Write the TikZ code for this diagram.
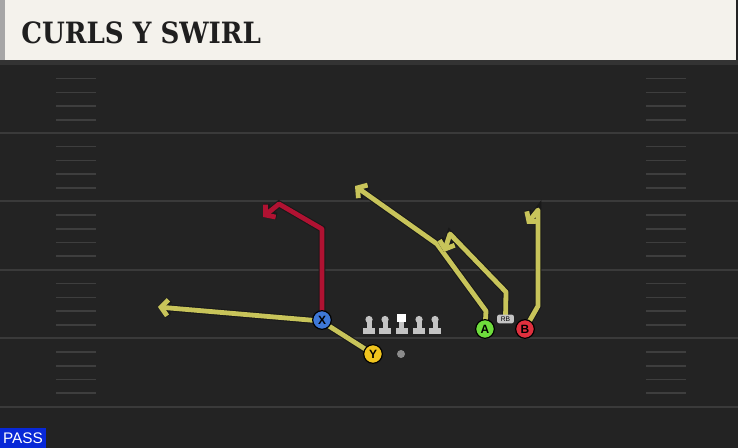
\documentclass[tikz,border=0pt]{standalone}
\usepackage{fontspec}
\setsansfont{Liberation Sans}
\newfontfamily\titlefont{DejaVu Serif}[BoldFont={DejaVu Serif Bold},FakeStretch=0.89]
\usepackage{tikz}
\usetikzlibrary{arrows.meta,positioning}
\pgfdeclarelayer{turf}
\pgfdeclarelayer{routes}
\pgfsetlayers{turf,routes,main}
\definecolor{field}{RGB}{35,35,35}
\definecolor{yardline}{RGB}{58,58,58}
\definecolor{hash}{RGB}{62,62,62}
\definecolor{paper}{RGB}{244,242,236}
\definecolor{routeyel}{RGB}{200,196,90}
\definecolor{routered}{RGB}{176,18,50}
\definecolor{xblue}{RGB}{62,120,215}
\definecolor{yyel}{RGB}{240,196,30}
\definecolor{agreen}{RGB}{110,220,60}
\definecolor{bred}{RGB}{224,48,62}
\definecolor{passblue}{RGB}{8,40,215}
\definecolor{olgray}{RGB}{196,196,196}

\begin{document}
\begin{tikzpicture}[x=0.75pt,y=-0.75pt,
  player/.style={circle,draw=black,line width=0.9pt,minimum size=14pt,inner sep=0pt,font=\sffamily\bfseries\small},
  route/.style={line width=3.6pt,line join=round,-{Straight Barb[length=5pt,width=12pt]},
    preaction={draw=black!90,line width=5.2pt}},
  yelroute/.style={route,draw=routeyel},
  redroute/.style={route,draw=routered},
  lineman/.style={fill=olgray}]
\useasboundingbox (0,0) rectangle (738,448);
\begin{pgfonlayer}{turf}
\fill[field] (0,0) rectangle (738,448);
\fill[black!80] (0,60) rectangle (738,65);
\fill[paper] (5,0) rectangle (736,60);
\fill[black!35] (0,0) rectangle (5,60);
\foreach \y in {133,201.5,270,338.5,407}
  \draw[yardline,line width=1.5pt] (0,\y) -- (738,\y);
\foreach \y in {65,133,201.5,270,338.5} {
  \foreach \k in {1,2,3,4} {
    \draw[hash,line width=1.2pt] (56,\y+13.7*\k) -- (96,\y+13.7*\k);
    \draw[hash,line width=1.2pt] (646,\y+13.7*\k) -- (686,\y+13.7*\k);
  }
}
\end{pgfonlayer}
\node[anchor=base west,inner sep=0pt,font=\titlefont\bfseries\fontsize{22}{26}\selectfont,text=black!88] (title) at (21,44) {CURLS Y SWIRL};
\node[fill=passblue,text=white,anchor=south west,minimum width=34pt,minimum height=15pt,inner sep=0pt,font=\sffamily\fontsize{11.5}{12}\selectfont] (pass) at (0,448) {PASS};
\foreach \x in {369,385,419,435} {
  \fill[lineman] (\x-6,328) rectangle (\x+6,334);
  \fill[lineman] (\x-2.5,320) rectangle (\x+2.5,329);
  \fill[lineman] (\x,319.5) circle (3.6);
}
\fill[lineman] (395.5,328) rectangle (407.5,334);
\fill[lineman] (399,320) rectangle (404,329);
\fill[white] (397,314) rectangle (406,322);
\fill[black!45] (401,354) circle (4);
\node (X) [player,fill=xblue] at (322,320) {X};
\node (Y) [player,fill=yyel] at (373,354) {Y};
\node (A) [player,fill=agreen] at (485,329) {A};
\node (B) [player,fill=bred] at (525,329) {B};
\node (RB) [fill=olgray,rounded corners=1.5pt,minimum width=12.5pt,minimum height=6.5pt,inner sep=0pt,font=\sffamily\fontsize{5}{5}\selectfont] at (505.5,319) {RB};
\coordinate (xcut) at (322,229);
\coordinate (xtop) at (279,204);
\coordinate (xend) at (263,217);
\coordinate (yturn) at (321,321);
\coordinate (yend) at (158,307);
\coordinate (abend) at (486,311);
\coordinate (amid) at (437,244);
\coordinate (aend) at (355,186);
\coordinate (rbup) at (506,292);
\coordinate (rbtop) at (450,234);
\coordinate (rbend) at (444,252);
\coordinate (bbend) at (538,306);
\coordinate (btop) at (538,210);
\coordinate (bend) at (527,224);
\begin{pgfonlayer}{routes}
\draw[yelroute] (Y.center) -- (yturn) -- (yend);
\draw[redroute] (X.center) -- (xcut) -- (xtop) -- (xend);
\draw[yelroute] (A.center) -- (abend) -- (amid) -- (aend);
\draw[yelroute] (RB.center) -- (rbup) -- (rbtop) -- (rbend);
\draw[yelroute] (B.center) -- (bbend) -- (btop) -- (bend);
\end{pgfonlayer}
\end{tikzpicture}
\end{document}
